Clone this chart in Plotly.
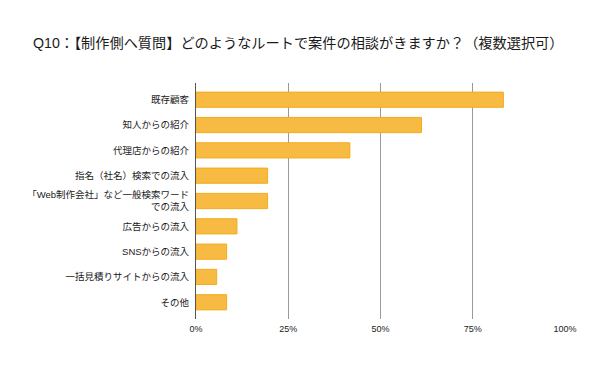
import plotly.graph_objects as go

title_text = "Q10：【制作側へ質問】どのようなルートで案件の相談がきますか？（複数選択可）"
categories = [
    "既存顧客",
    "知人からの紹介",
    "代理店からの紹介",
    "指名（社名）検索での流入",
    "「Web制作会社」など一般検索ワード<br>での流入",
    "広告からの流入",
    "SNSからの流入",
    "一括見積りサイトからの流入",
    "その他",
]
values = [83.3, 61.1, 41.7, 19.4, 19.4, 11.1, 8.3, 5.6, 8.3]
x_tickvals = [0, 25, 50, 75, 100]
x_ticktext = ["0%", "25%", "50%", "75%", "100%"]

font_family = "Liberation Sans, Noto Sans CJK JP, sans-serif"

fig = go.Figure(
    go.Bar(
        x=values,
        y=categories,
        orientation="h",
        marker=dict(color="#F7BA42", line=dict(color="#F2AC1E", width=1)),
        width=0.6,
        hoverinfo="x+y",
    )
)

fig.update_layout(
    width=600,
    height=368,
    margin=dict(l=196, r=34.5, t=83, b=49),
    paper_bgcolor="white",
    plot_bgcolor="white",
    showlegend=False,
    font=dict(family=font_family, color="#1a1a1a"),
    title=dict(
        text=title_text,
        xref="container",
        yref="container",
        x=33 / 600,
        xanchor="left",
        y=1 - 43 / 368,
        yanchor="middle",
        font=dict(size=14.2, color="#1a1a1a", family=font_family),
    ),
)

fig.update_xaxes(
    range=[0, 100],
    tickvals=x_tickvals,
    ticktext=x_ticktext,
    showgrid=True,
    gridcolor="#9a9a9a",
    gridwidth=1,
    zeroline=False,
    showline=False,
    tickfont=dict(size=9, color="#1a1a1a"),
    ticks="",
    ticklabelstandoff=3,
    fixedrange=True,
)

fig.update_yaxes(
    autorange=False,
    range=[8.66, -0.66],
    categoryorder="array",
    categoryarray=categories,
    showgrid=False,
    showline=True,
    linecolor="#555555",
    linewidth=1,
    zeroline=False,
    ticks="",
    ticklabelstandoff=4,
    tickfont=dict(size=9.5, color="#1a1a1a"),
    fixedrange=True,
)

fig.write_html(
    "out.html",
    config={"displayModeBar": False},
    post_script="document.body.style.margin='0';document.body.style.padding='0';",
)
